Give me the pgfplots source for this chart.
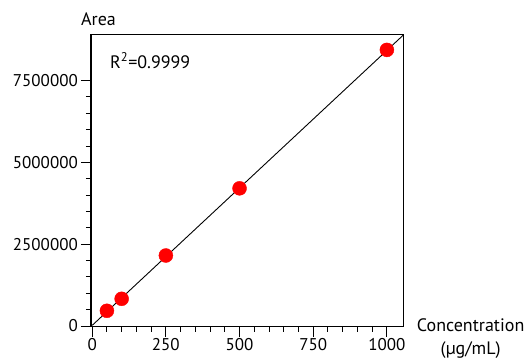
\documentclass[border=0pt]{standalone}
\usepackage{fontspec}
\setmainfont{PT Sans}
\usepackage{pgfplots}
\pgfplotsset{compat=1.18}
\begin{document}
\begin{tikzpicture}
\begin{axis}[
  scale only axis,
  width=312.7pt, height=292pt,
  xmin=-4, xmax=1057,
  ymin=-20000, ymax=8900000,
  xtick={0,250,500,750,1000},
  ytick={0,2500000,5000000,7500000},
  minor x tick num=4,
  minor y tick num=4,
  tick pos=left,
  tick align=outside,
  major tick length=10pt,
  minor tick length=5pt,
  axis line style={line width=1.2pt},
  every tick/.style={black, line width=1pt},
  scaled y ticks=false,
  /pgf/number format/assume math mode=true,
  yticklabel style={/pgf/number format/fixed, /pgf/number format/1000 sep={}, font=\fontsize{17}{20}\selectfont, inner sep=1pt, xshift=-2pt},
  xticklabel style={/pgf/number format/1000 sep={}, font=\fontsize{17}{20}\selectfont, inner sep=1pt},
  clip=false,
]
\addplot[black, line width=0.9pt] coordinates {(0,20000) (1057,8900000)};
\addplot[only marks, mark=*, mark size=7pt, color=red, mark options={draw=red, fill=red}] coordinates {
(50,466000) (100,832000) (250,2155000) (500,4207000) (1000,8436000)};
\node[anchor=base west, font=\fontsize{18}{20}\selectfont, inner sep=0pt] at ([xshift=-10pt, yshift=9pt]rel axis cs:0,1) {Area};
\node[anchor=west, font=\fontsize{18}{20}\selectfont, inner sep=0pt] at ([xshift=19pt, yshift=-26pt]rel axis cs:0,1) {R\textsuperscript{2}=0.9999};
\node[align=center, font=\fontsize{18}{23}\selectfont, inner sep=0pt] at ([xshift=67pt, yshift=-12pt]rel axis cs:1,0) {Concentration\\(µg/mL)};
\end{axis}
\useasboundingbox ([xshift=-91pt, yshift=-27.3pt]current axis.south west) rectangle ([xshift=437pt, yshift=326.7pt]current axis.south west);
\end{tikzpicture}
\end{document}
